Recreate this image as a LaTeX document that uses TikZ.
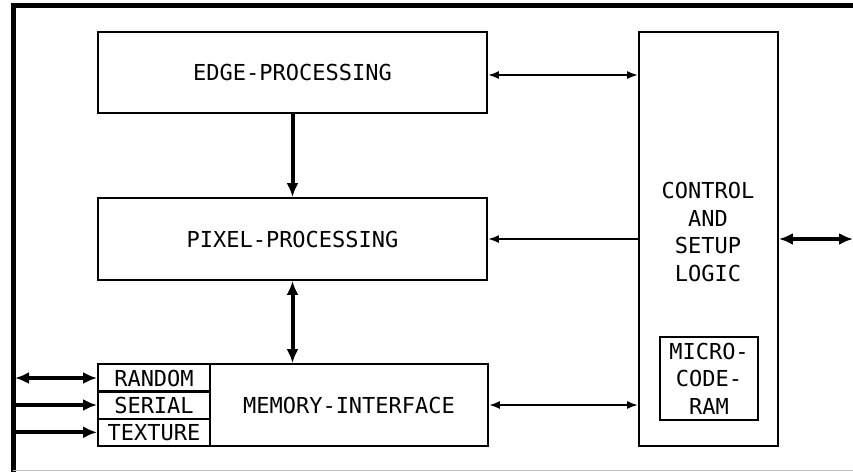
\documentclass[tikz,border=0pt]{standalone}
\usepackage{fontspec}
\setmonofont{DejaVu Sans Mono}
\usetikzlibrary{arrows.meta}
\tikzset{
  lbl/.style={font=\ttfamily\fontsize{22}{27.5}\selectfont, align=center},
  box/.style={draw, line width=1.8pt, inner sep=0pt, lbl},
  thin/.style={line width=2pt, {Latex[length=11pt,width=8pt]}-{Latex[length=11pt,width=8pt]}},
  thinR/.style={line width=2pt, -{Latex[length=11pt,width=8pt]}},
  thick/.style={line width=4pt, {Latex[length=14pt,width=12pt]}-{Latex[length=14pt,width=12pt]}},
  thickR/.style={line width=4pt, -{Latex[length=14pt,width=12pt]}},
}
\begin{document}
\begin{tikzpicture}[x=1pt,y=-1pt]
\useasboundingbox (0,0) rectangle (853,472);
% frame
\draw[line width=5pt] (13,472) -- (13,5) -- (853,5);
\draw[line width=1pt, black!25] (13,470) -- (853,470);
\coordinate (frameL) at (15,0);
\coordinate (outR) at (853,239);
% boxes
\node[box, minimum width=389pt, minimum height=81pt] (edge) at (292.5,72.5) {EDGE-PROCESSING};
\node[box, minimum width=389pt, minimum height=82pt] (pixel) at (292.5,239) {PIXEL-PROCESSING};
\node[box, minimum width=390pt, minimum height=82pt] (mem) at (293,405) {};
\node[lbl] (memlbl) at (349,405) {MEMORY-INTERFACE};
\node[box, minimum width=112pt, minimum height=27.33pt] (random) at (154,378) {RANDOM};
\node[box, minimum width=112pt, minimum height=27.33pt] (serial) at (154,405) {SERIAL};
\node[box, minimum width=112pt, minimum height=27.33pt] (texture) at (154,432.3) {TEXTURE};
\node[box, minimum width=139pt, minimum height=414pt] (ctrl) at (708.5,239) {};
\node[lbl] (ctrllbl) at (708,232) {CONTROL\\AND\\SETUP\\LOGIC};
\node[box, minimum width=98pt, minimum height=83pt] (micro) at (709,378.5) {MICRO-\\CODE-\\RAM};
% connectors
\draw[thin] (edge.east |- 0,75) -- (ctrl.west |- 0,75);
\draw[thickR] (edge.south) -- (pixel.north);
\draw[thinR] (ctrl.west |- pixel.east) -- (pixel.east);
\draw[thick] (pixel.south) -- (pixel.south |- mem.north);
\draw[thin] (mem.east) -- (mem.east -| ctrl.west);
\draw[thick] (ctrl.east |- outR) -- (outR);
\draw[thick] (frameL |- random.west) -- (random.west);
\draw[thickR] (frameL |- serial.west) -- (serial.west);
\draw[thickR] (frameL |- texture.west) -- (texture.west);
\end{tikzpicture}
\end{document}
